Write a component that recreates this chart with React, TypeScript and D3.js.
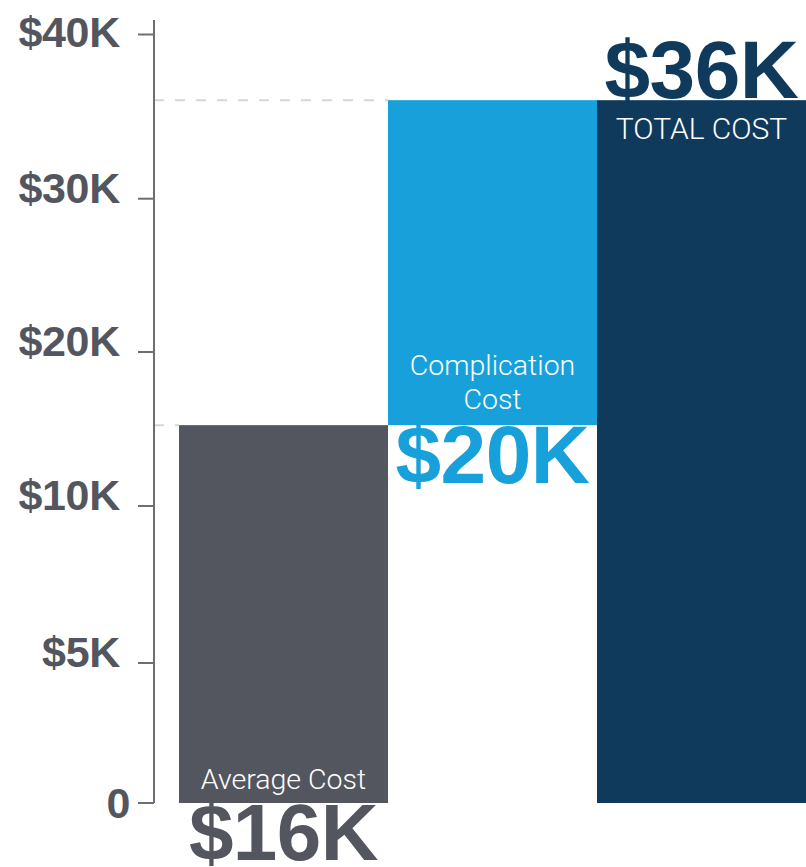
import React from "react";
import * as d3 from "d3";

const categories = ["Average Cost", "Complication Cost", "TOTAL COST"];
const barBase = [0, 15250, 0];
const barTop = [15250, 36000, 36000];
const bigLabels = ["$16K", "$20K", "$36K"];
const tickValues = [0, 5000, 10000, 20000, 30000, 40000];
const tickLabels = ["0", "$5K", "$10K", "$20K", "$30K", "$40K"];
const colors = ["#53565e", "#18a0db", "#0f3a5c"];

const W = 806;
const H = 867;
const GRAY = "#53565e";
const LIGHT = "Roboto, 'Open Sans', sans-serif";
const BOLD = "'Liberation Sans', Arial, Helvetica, sans-serif";

export default function App() {
  const x = d3.scaleBand<string>().domain(categories).range([179, 806]).padding(0);
  const y = d3
    .scaleLinear()
    .domain(tickValues)
    .range([803, 663, 506, 352, 198.7, 34.5]);
  const axisX = 154;
  const bw = x.bandwidth();
  const cx = (i: number) => (x(categories[i]) as number) + bw / 2;

  return (
    <svg
      width={W}
      height={H}
      style={{ position: "absolute", left: 0, top: 0, background: "#fff" }}
    >
      {/* dashed guide lines */}
      <line
        x1={axisX}
        x2={x(categories[0])}
        y1={y(barTop[0])}
        y2={y(barTop[0])}
        stroke="#d8d6d0"
        strokeWidth={2}
        strokeDasharray="10 11"
      />
      <line
        x1={axisX}
        x2={x(categories[1])}
        y1={y(barTop[2])}
        y2={y(barTop[2])}
        stroke="#d8d6d0"
        strokeWidth={2}
        strokeDasharray="10 11"
      />
      {/* axis */}
      <line x1={axisX} x2={axisX} y1={20} y2={y(0)} stroke="#6c6e75" strokeWidth={2} />
      {tickValues.map((v, i) => {
        const last = i === tickValues.length - 1;
        const dy = i === 0 ? 15 : last ? 12 : 4;
        const tx = i === 0 ? 130 : 120;
        return (
          <g key={v}>
            <line x1={138} x2={axisX} y1={y(v)} y2={y(v)} stroke="#6c6e75" strokeWidth={2} />
            <text
              x={tx}
              y={y(v) + dy}
              textAnchor="end"
              fontFamily={BOLD}
              fontWeight={700}
              fontSize={43}
              letterSpacing={-0.3}
              fill={GRAY}
            >
              {tickLabels[i]}
            </text>
          </g>
        );
      })}
      {/* big value labels (behind bars) */}
      <text
        x={cx(1)}
        y={483}
        textAnchor="middle"
        fontFamily={BOLD}
        fontWeight={700}
        fontSize={82}
        letterSpacing={-0.5}
        fill={colors[1]}
      >
        {bigLabels[1]}
      </text>
      {/* bars */}
      {categories.map((c, i) => (
        <rect
          key={c}
          x={x(c)}
          y={y(barTop[i])}
          width={bw}
          height={y(barBase[i]) - y(barTop[i])}
          fill={colors[i]}
        />
      ))}
      <text
        x={cx(0)}
        y={860}
        textAnchor="middle"
        fontFamily={BOLD}
        fontWeight={700}
        fontSize={80}
        letterSpacing={-0.5}
        fill={colors[0]}
      >
        {bigLabels[0]}
      </text>
      <text
        x={cx(2)}
        y={98}
        textAnchor="middle"
        fontFamily={BOLD}
        fontWeight={700}
        fontSize={82}
        letterSpacing={-0.5}
        fill={colors[2]}
      >
        {bigLabels[2]}
      </text>
      {/* category labels */}
      <text
        x={cx(0)}
        y={789}
        textAnchor="middle"
        fontFamily={LIGHT}
        fontWeight={300}
        fontSize={28.5}
        fill="#fff"
      >
        {categories[0]}
      </text>
      <text
        x={cx(1)}
        y={375}
        textAnchor="middle"
        fontFamily={LIGHT}
        fontWeight={300}
        fontSize={28.5}
        fill="#fff"
      >
        Complication
      </text>
      <text
        x={cx(1)}
        y={409}
        textAnchor="middle"
        fontFamily={LIGHT}
        fontWeight={300}
        fontSize={28.5}
        fill="#fff"
      >
        Cost
      </text>
      <text
        x={cx(2)}
        y={139}
        textAnchor="middle"
        fontFamily={LIGHT}
        fontWeight={300}
        fontSize={30}
        fill="#fff"
      >
        {categories[2]}
      </text>
    </svg>
  );
}
